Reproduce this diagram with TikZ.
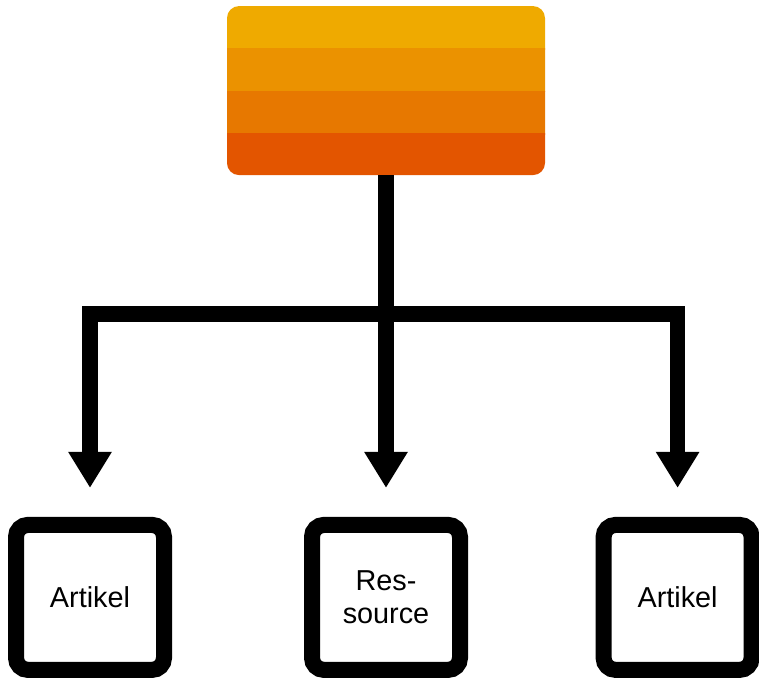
\documentclass[tikz,border=0pt]{standalone}
\usepackage{fontspec}
\setmainfont{Liberation Sans}
\usetikzlibrary{arrows.meta}

\definecolor{stripeA}{HTML}{EFAA00}
\definecolor{stripeB}{HTML}{EB9200}
\definecolor{stripeC}{HTML}{E77800}
\definecolor{stripeD}{HTML}{E35500}

\begin{document}
\begin{tikzpicture}[>={Triangle[width=1.025cm,length=0.9cm]},
  bar/.style={line width=0.39cm},
  arrow/.style={bar,->,shorten >=0.725cm},
  leaf/.style={draw,line width=0.4cm,rounded corners=0.3cm,fill=white,
    minimum width=3.7cm,minimum height=3.625cm,align=center,
    font=\fontsize{20.5}{23.5}\selectfont},
  stack/.style={rounded corners=0.3cm,minimum width=7.95cm,minimum height=4.225cm,
    outer sep=0pt,path picture={
      \foreach \c [count=\i from 0] in {stripeA,stripeB,stripeC,stripeD}
        \fill[\c,sharp corners] ([yshift=-\i*1.05625cm]path picture bounding box.north west)
          rectangle ++(8cm,-1.1cm);
    }}]
  \useasboundingbox (0,0) rectangle (18.975,16.975);
  \node[stack]          (top)  at (9.65, 14.71)  {};
  \node[leaf]           (art1) at (2.25, 2.04)   {Artikel};
  \node[leaf]           (res)  at (9.65, 2.04)   {Res-\\source};
  \node[leaf]           (art2) at (16.94, 2.04)  {Artikel};
  \coordinate (fork) at (9.65, 9.125);
  \draw[bar]   (top.south) -- (fork);
  \draw[arrow] (fork) -| (art1.north);
  \draw[arrow] (top.south) -- (res.north);
  \draw[arrow] (fork) -| (art2.north);
\end{tikzpicture}
\end{document}
